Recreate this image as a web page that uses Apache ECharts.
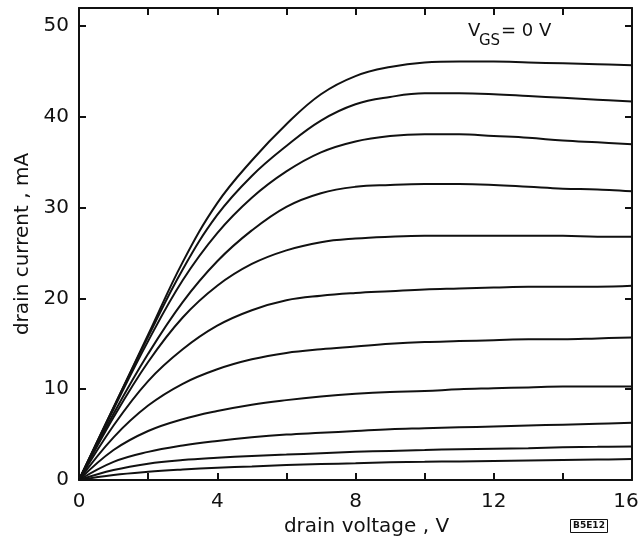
<!DOCTYPE html>
<html>
<head>
<meta charset="utf-8">
<script src="https://cdn.jsdelivr.net/npm/echarts@6/dist/echarts.min.js"></script>
<style>
html,body{margin:0;padding:0;background:#fff;}
#chart{width:641px;height:539px;}
</style>
</head>
<body>
<div id="chart"></div>
<script>
// drain voltage sample points (V)
const drainVoltage = [0,1,2,3,4,5,6,7,8,9,10,11,12,13,14,15,16];
// drain current (mA), one array per gate-voltage step, top (VGS = 0 V) to bottom
const curve1  = [0,8,16,24,30.5,35.2,39.2,42.5,44.5,45.5,46,46.1,46.1,46,45.9,45.8,45.7];
const curve2  = [0,8,15.8,23.2,29.2,33.5,36.8,39.6,41.4,42.2,42.6,42.6,42.5,42.3,42.1,41.9,41.7];
const curve3  = [0,7.8,15.3,22,27.2,31.1,34,36.1,37.3,37.9,38.1,38.1,37.9,37.7,37.4,37.2,37.0];
const curve4  = [0,7.3,13.9,19.6,24.1,27.5,30.1,31.6,32.3,32.5,32.6,32.6,32.5,32.3,32.1,32,31.8];
const curve5  = [0,6.9,13,17.9,21.4,23.8,25.3,26.2,26.6,26.8,26.9,26.9,26.9,26.9,26.9,26.8,26.8];
const curve6  = [0,6,10.9,14.4,17,18.7,19.8,20.3,20.6,20.8,21,21.1,21.2,21.3,21.3,21.3,21.4];
const curve7  = [0,4.7,8.2,10.6,12.2,13.3,14,14.4,14.7,15,15.2,15.3,15.4,15.5,15.5,15.6,15.7];
const curve8  = [0,3.3,5.4,6.7,7.6,8.3,8.8,9.2,9.5,9.7,9.8,10,10.1,10.2,10.3,10.3,10.3];
const curve9  = [0,2,3.1,3.8,4.3,4.7,5,5.2,5.4,5.6,5.7,5.8,5.9,6,6.1,6.2,6.3];
const curve10 = [0,1.1,1.8,2.2,2.45,2.65,2.8,2.95,3.1,3.2,3.3,3.4,3.45,3.5,3.6,3.65,3.7];
const curve11 = [0,0.55,0.9,1.15,1.35,1.5,1.65,1.75,1.85,1.95,2,2.05,2.1,2.15,2.2,2.25,2.3];
const curves = [curve1,curve2,curve3,curve4,curve5,curve6,curve7,curve8,curve9,curve10,curve11];
const xTickLabels = [0,4,8,12,16];
const yTickLabels = [0,10,20,30,40,50];
const xAxisTitle = 'drain voltage , V';
const yAxisTitle = 'drain current , mA';

const FONT = 'DejaVu Sans';
const INK = '#111';

const chart = echarts.init(document.getElementById('chart'), null, {renderer: 'canvas'});

const baseAxis = {
  axisLine: {show: true, onZero: false, lineStyle: {color: INK, width: 2}},
  axisTick: {show: true, inside: true, length: 7, lineStyle: {color: INK, width: 2}},
  splitLine: {show: false}
};

const xMax = xTickLabels[xTickLabels.length - 1];

const option = {
  animation: false,
  backgroundColor: '#fff',
  grid: {left: 79, right: 9, top: 8, bottom: 59, containLabel: false, outerBoundsMode: 'none'},
  xAxis: [
    Object.assign({}, baseAxis, {
      type: 'value', min: 0, max: 16, interval: 2, position: 'bottom',
      name: xAxisTitle, nameLocation: 'middle', nameGap: 34,
      nameTextStyle: {fontFamily: FONT, fontSize: 20, color: INK, padding: [0, 0, 0, 22]},
      axisLabel: {
        show: true, margin: 12, fontFamily: FONT, fontSize: 20, color: INK,
        formatter: v => xTickLabels.indexOf(v) < 0 ? '' : (v === xMax ? '{end|' + v + '}' : String(v)),
        rich: {end: {fontFamily: FONT, fontSize: 20, color: INK, padding: [0, 12, 0, 0]}}
      }
    }),
    Object.assign({}, baseAxis, {
      type: 'value', min: 0, max: 16, interval: 2, position: 'top',
      axisLabel: {show: false}
    })
  ],
  yAxis: [
    Object.assign({}, baseAxis, {
      type: 'value', min: 0, max: 52, interval: 10, position: 'left',
      name: yAxisTitle, nameLocation: 'middle', nameGap: 44,
      nameTextStyle: {fontFamily: FONT, fontSize: 20, color: INK},
      axisLabel: {
        show: true, margin: 10, fontFamily: FONT, fontSize: 20, color: INK,
        formatter: v => yTickLabels.indexOf(v) >= 0 ? String(v) : ''
      }
    }),
    Object.assign({}, baseAxis, {
      type: 'value', min: 0, max: 52, interval: 10, position: 'right',
      axisLabel: {show: false}
    })
  ],
  series: curves.map((c, i) => ({
    type: 'line',
    name: 'curve ' + (i + 1),
    xAxisIndex: 0, yAxisIndex: 0,
    data: drainVoltage.map((v, j) => [v, c[j]]),
    showSymbol: false,
    smooth: 0.4,
    lineStyle: {color: INK, width: 2},
    emphasis: {disabled: true},
    z: 3
  })),
  graphic: [
    {type: 'text', left: 468, top: 22, style: {text: 'V', font: '18px "DejaVu Sans"', fill: INK}},
    {type: 'text', left: 479, top: 34, style: {text: 'GS', font: '15px "DejaVu Sans"', fill: INK}},
    {type: 'text', left: 501, top: 22, style: {text: '= 0 V', font: '18px "DejaVu Sans"', fill: INK}},
    {type: 'group', left: 570, top: 519, children: [
      {type: 'rect', shape: {x: 0, y: 0, width: 37, height: 13}, style: {fill: '#fff', stroke: INK, lineWidth: 1}},
      {type: 'text', x: 18.5, y: 6.5, style: {text: 'B5E12', font: 'bold 9px "DejaVu Sans"', fill: INK, align: 'center', verticalAlign: 'middle'}}
    ]}
  ]
};
chart.setOption(option);
</script>
</body>
</html>
